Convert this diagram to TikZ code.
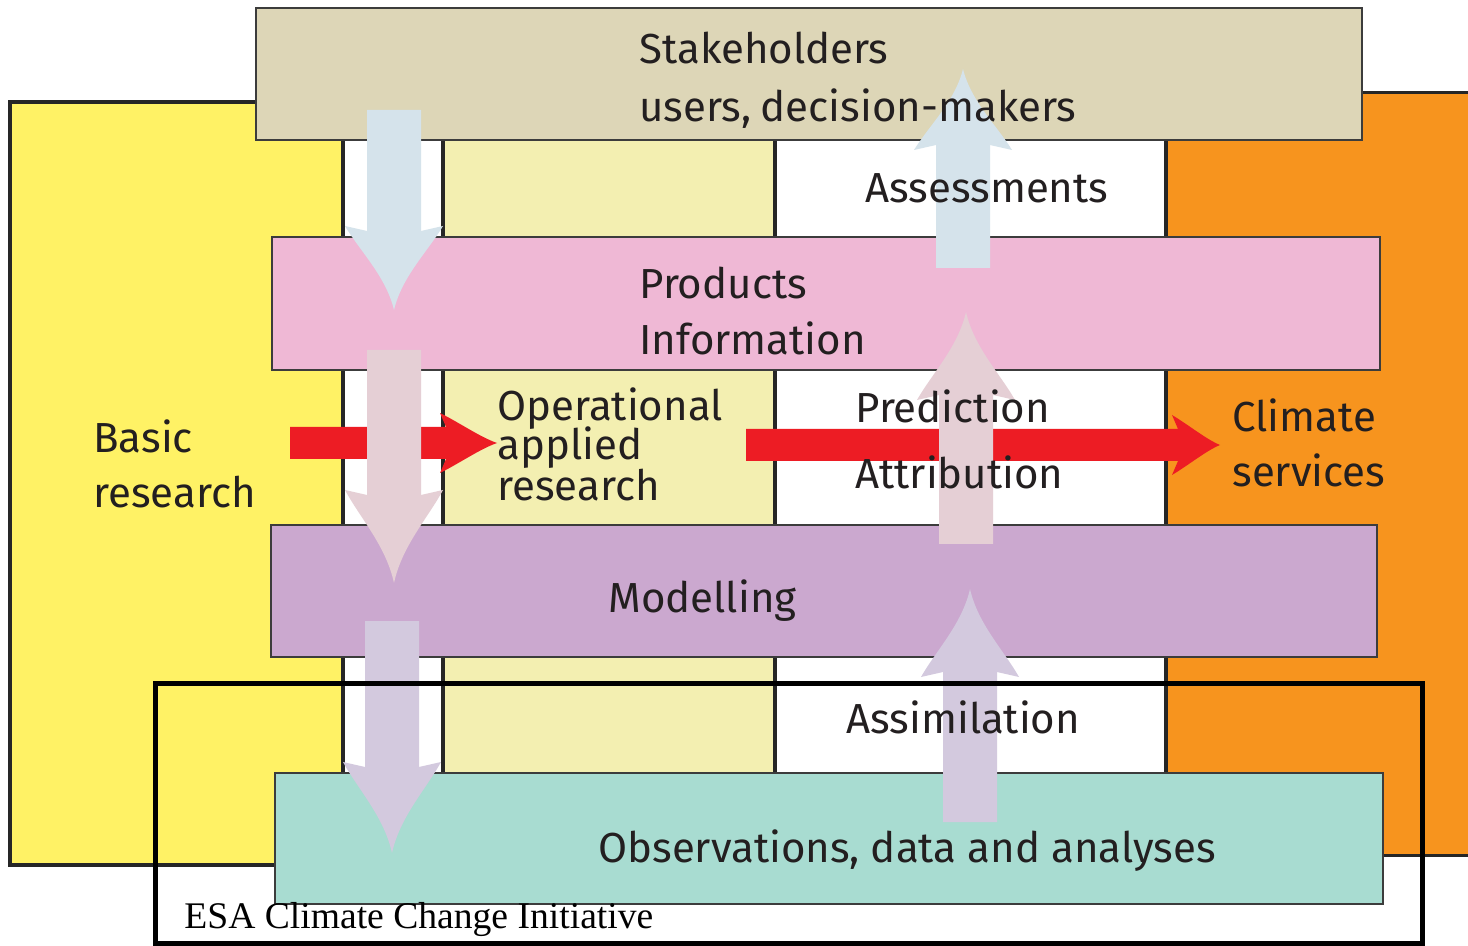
\documentclass[tikz,border=0pt]{standalone}
\usepackage{fontspec}
\setmainfont{Fira Sans}
\newfontfamily\esafont{Liberation Serif}

\definecolor{basicyellow}{HTML}{FFF265}
\definecolor{paleyellow}{HTML}{F3EFB1}
\definecolor{orangefill}{HTML}{F7941E}
\definecolor{stakefill}{HTML}{DDD6B7}
\definecolor{prodfill}{HTML}{EFB8D5}
\definecolor{modelfill}{HTML}{CBA8CF}
\definecolor{obsfill}{HTML}{A8DCD1}
\definecolor{arrowred}{HTML}{ED1C24}
\definecolor{arrowblue}{HTML}{D5E3EB}
\definecolor{arrowpink}{HTML}{E5CFD5}
\definecolor{arrowlilac}{HTML}{D3C9DE}
\definecolor{bandline}{HTML}{3C3C3C}
\definecolor{inkdark}{HTML}{231F20}

\newcommand{\fatarrow}[5]{%
  \pgfmathsetmacro\ahd{#5-#4}%
  \pgfmathsetmacro\ajn{#4+5*sign(\ahd)}%
  \fill[#1] ({#2-27},#3) -- ({#2-27},\ajn) -- ({#2-49},#4)
    .. controls ({#2-34},{#4+0.3*\ahd}) and ({#2-8},{#4+0.6*\ahd}) .. (#2,#5)
    .. controls ({#2+8},{#4+0.6*\ahd}) and ({#2+34},{#4+0.3*\ahd}) .. ({#2+49},#4)
    -- ({#2+27},\ajn) -- ({#2+27},#3) -- cycle;}
\newcommand{\flatarrow}[5]{%
  \pgfmathsetmacro\ahd{#5-#4}%
  \pgfmathsetmacro\ajn{#4+6}%
  \fill[#1] (#3,{#2-16}) -- (\ajn,{#2-16}) -- (#4,{#2-30})
    .. controls ({#4+0.35*\ahd},{#2-20}) and ({#4+0.7*\ahd},{#2-6}) .. (#5,#2)
    .. controls ({#4+0.7*\ahd},{#2+6}) and ({#4+0.35*\ahd},{#2+20}) .. (#4,{#2+30})
    -- (\ajn,{#2+16}) -- (#3,{#2+16}) -- cycle;}

\tikzset{
  band/.style={draw=bandline, line width=0.75pt},
  colline/.style={draw=black!85, line width=1.75pt},
  lbl/.style={anchor=base west, inner sep=0pt, text=inkdark,
              font=\fontsize{21}{25}\selectfont},
}

\begin{document}
\begin{tikzpicture}[x=0.5pt, y=-0.5pt]
\useasboundingbox (0,0) rectangle (1468,946);

\draw[fill=basicyellow, draw=black!85, line width=2pt] (10,102) rectangle (343,865);
\draw[fill=orangefill, draw=black!85, line width=1.5pt] (1166,93) rectangle (1490,855);
\fill[white] (343,102) rectangle (443,865);
\fill[paleyellow] (443,102) rectangle (775,865);
\fill[white] (775,102) rectangle (1166,865);
\foreach \cx in {343,443,775,1166}
  \draw[colline] (\cx,102) -- (\cx,865);

\draw[band, fill=stakefill] (256,8) rectangle (1362,140);
\draw[band, fill=prodfill] (272,237) rectangle (1380,370);
\draw[band, fill=modelfill] (271,525) rectangle (1377,657);
\draw[band, fill=obsfill] (275,773) rectangle (1383,904);

\flatarrow{arrowred}{443}{290}{440}{497}
\flatarrow{arrowred}{445}{746}{1172}{1220}

\fatarrow{arrowblue}{394}{110}{226}{310}
\fatarrow{arrowpink}{394}{350}{490}{583}
\fatarrow{arrowlilac}{392}{621}{762}{853}
\fatarrow{arrowblue}{963}{268}{150}{69}
\fatarrow{arrowpink}{966}{544}{400}{312}
\fatarrow{arrowlilac}{970}{822}{677}{589}

\node[lbl] (stake) at (639,64) {Stakeholders};
\node[lbl] (users) at (639,122) {users,\kern-1pt\ decision-makers};
\node[lbl] (assess) at (865,203) {Assessments};
\node[lbl] (prod) at (639,299) {Products};
\node[lbl] (info) at (639,355) {Information};
\node[lbl] (basic) at (93,453) {Basic};
\node[lbl] (basicres) at (93,508) {research};
\node[lbl] (oper) at (497,421) {Operational};
\node[lbl] (applied) at (497,460) {applied};
\node[lbl] (appres) at (497,501) {research};
\node[lbl] (pred) at (855,423) {Prediction};
\node[lbl] (attr) at (855,489) {Attribution};
\node[lbl] (clim) at (1232,432) {Climate};
\node[lbl] (serv) at (1232,487) {services};
\node[lbl] (model) at (608,612) {Modelling};
\node[lbl] (assim) at (846,733) {Assimilation};
\node[lbl] (obs) at (598,862) {Observations, data and analyses};

\draw[line width=2.5pt] (155,683) rectangle (1422,943);
\node[anchor=base west, inner sep=0pt, font=\esafont\fontsize{18.8}{22}\selectfont]
  (esa) at (184,928) {ESA Climate Change Initiative};
\end{tikzpicture}
\end{document}
